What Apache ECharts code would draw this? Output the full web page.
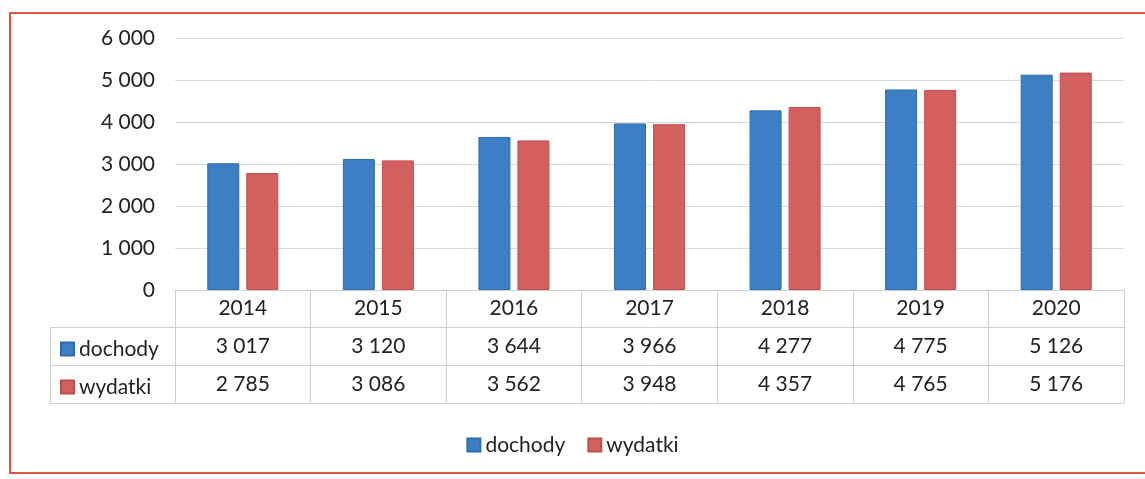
<!DOCTYPE html>
<html><head><meta charset="utf-8">
<script src="https://cdn.jsdelivr.net/npm/echarts@6/dist/echarts.min.js"></script>
<style>html,body{margin:0;padding:0;background:#fff}#c{width:1145px;height:479px}</style>
</head><body><div id="c"></div>
<script>
const years = ['2014','2015','2016','2017','2018','2019','2020'];
const dochody = [3017, 3120, 3644, 3966, 4277, 4775, 5126];
const wydatki = [2785, 3086, 3562, 3948, 4357, 4765, 5176];
const yTicks = [0, 1000, 2000, 3000, 4000, 5000, 6000];

const fmt = v => String(v).replace(/\B(?=(\d{3})+(?!\d))/g, '\u00a0');
const FONT = 'Lato';
const FS = 21;
const TXT = '#222';
const LINE = '#cfcfcf';
const blue = '#3d7fc5', red = '#d2605f';

const chart = echarts.init(document.getElementById('c'));
const rowAxis = (offset, arr, showLabel) => ({
  type: 'category', data: years, position: 'bottom', offset: offset,
  axisLine: {show: true, lineStyle: {color: LINE, width: 1}},
  axisTick: {show: false},
  axisLabel: {show: showLabel, margin: 9, fontFamily: FONT, fontSize: FS, color: TXT,
    formatter: (v, i) => arr ? fmt(arr[i]) : ''}
});
chart.setOption({
  animation: false,
  textStyle: {fontFamily: FONT},
  grid: {left: 175, right: 21, top: 38, bottom: 189},
  xAxis: [
    {type: 'category', data: years, position: 'bottom',
     axisLine: {show: true, lineStyle: {color: LINE, width: 1}},
     axisTick: {show: true, length: 113, lineStyle: {color: LINE}},
     axisLabel: {margin: 8, fontFamily: FONT, fontSize: FS, color: TXT}},
    rowAxis(37, dochody, true),
    rowAxis(75, wydatki, true),
    rowAxis(113, null, false)
  ],
  yAxis: {
    type: 'value', min: 0, max: 6000, interval: 1000,
    axisLine: {show: false}, axisTick: {show: false},
    axisLabel: {margin: 20, fontFamily: FONT, fontSize: FS, color: TXT, formatter: v => fmt(v)},
    splitLine: {lineStyle: {color: '#d9d9d9', width: 1}}
  },
  legend: [
    {data: ['dochody', 'wydatki'], orient: 'vertical', left: 55, top: 333,
     icon: 'rect', itemWidth: 13, itemHeight: 13, itemGap: 16,
     textStyle: {fontFamily: FONT, fontSize: FS, color: TXT, lineHeight: 22}, selectedMode: false},
    {data: ['dochody', 'wydatki'], orient: 'horizontal', left: 'center', top: 429,
     icon: 'rect', itemWidth: 13, itemHeight: 13, itemGap: 22,
     textStyle: {fontFamily: FONT, fontSize: FS, color: TXT, lineHeight: 22}, selectedMode: false}
  ],
  series: [
    {name: 'dochody', type: 'bar', data: dochody, barWidth: 32, barGap: '22%',
     itemStyle: {color: blue, borderColor: '#2f6cad', borderWidth: 1}},
    {name: 'wydatki', type: 'bar', data: wydatki, barWidth: 32,
     itemStyle: {color: red, borderColor: '#c04e4d', borderWidth: 1}}
  ],
  graphic: [
    {type: 'rect', shape: {x: 10, y: 13, width: 1150, height: 460}, silent: true,
     style: {fill: 'none', stroke: '#e4533f', lineWidth: 2}},
    {type: 'line', shape: {x1: 50, y1: 327.5, x2: 175, y2: 327.5}, style: {stroke: LINE, lineWidth: 1}},
    {type: 'line', shape: {x1: 50, y1: 365.5, x2: 175, y2: 365.5}, style: {stroke: LINE, lineWidth: 1}},
    {type: 'line', shape: {x1: 50, y1: 403.5, x2: 175, y2: 403.5}, style: {stroke: LINE, lineWidth: 1}},
    {type: 'line', shape: {x1: 50.5, y1: 327, x2: 50.5, y2: 404}, style: {stroke: LINE, lineWidth: 1}}
  ]
});
</script></body></html>
